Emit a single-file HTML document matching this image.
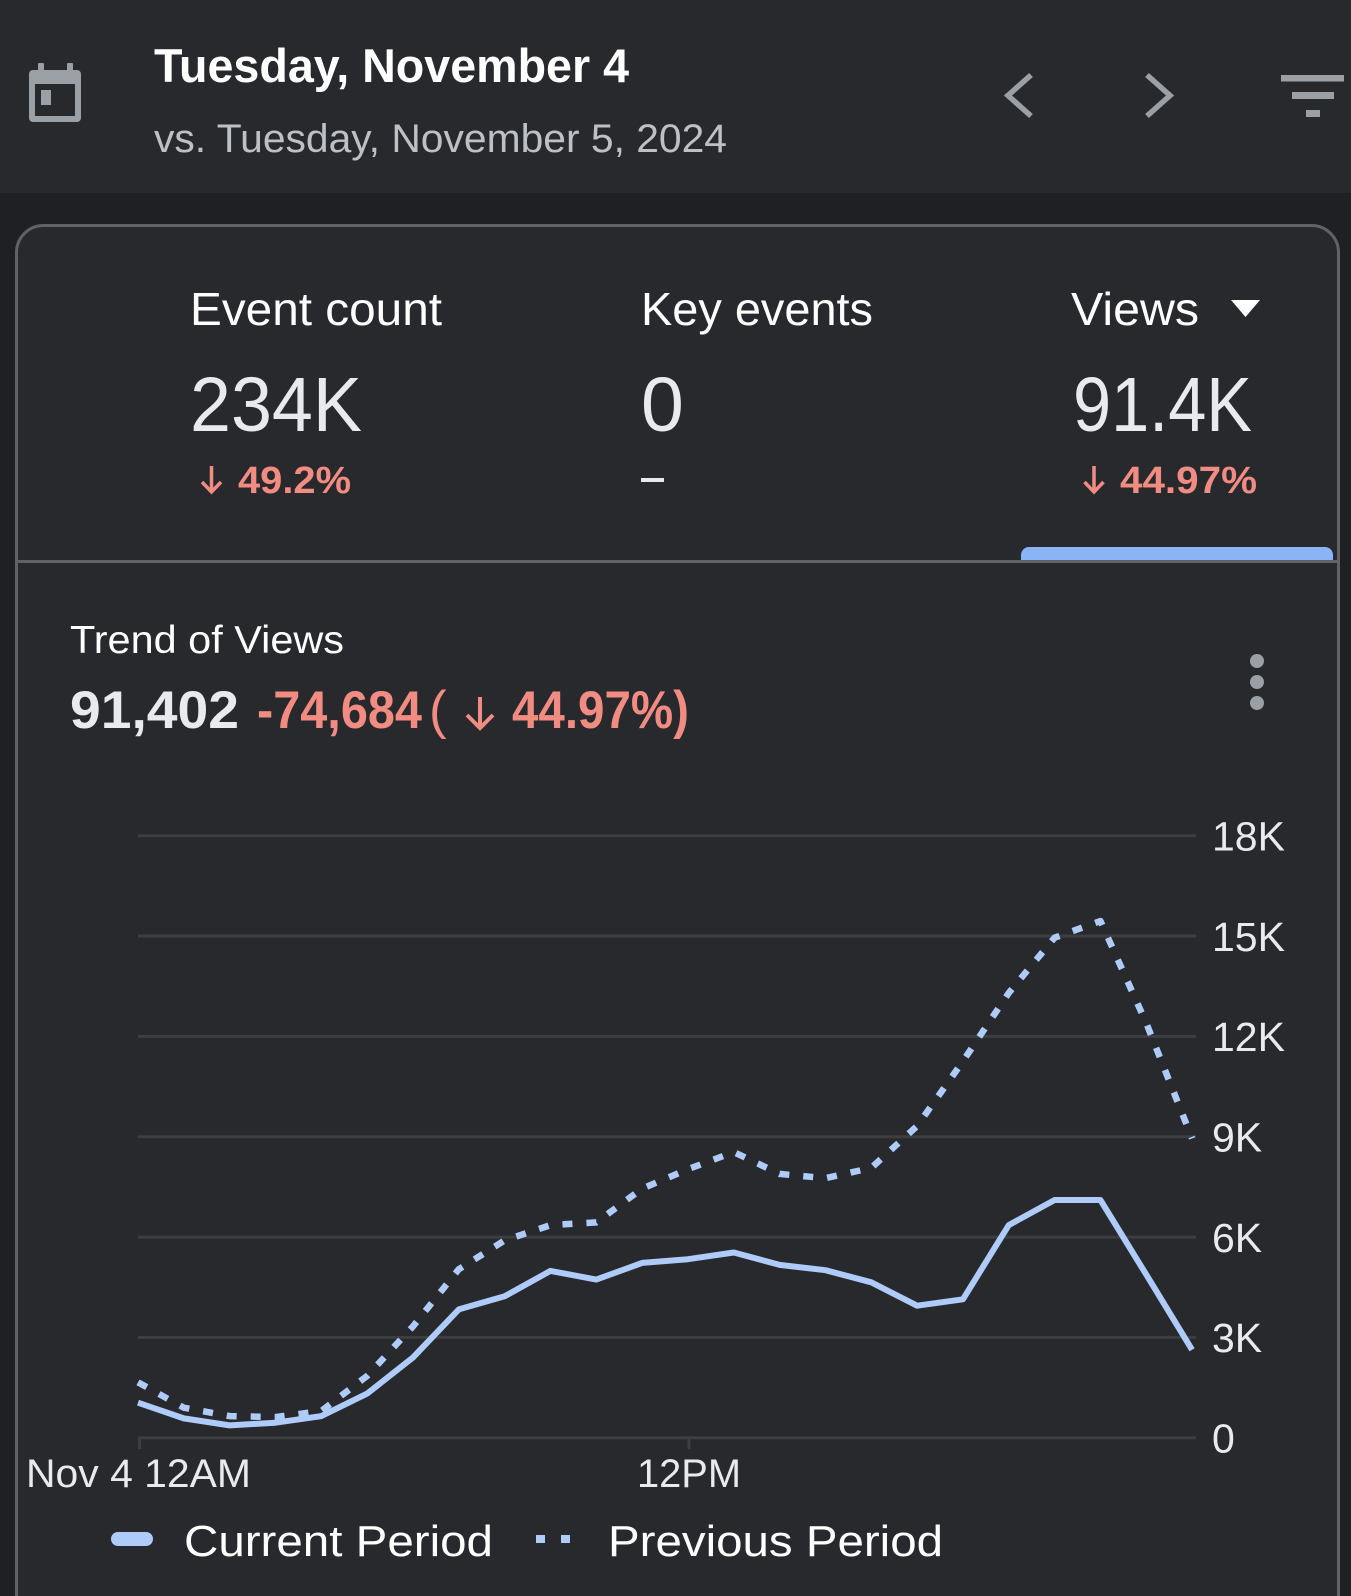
<!DOCTYPE html>
<html>
<head>
<meta charset="utf-8">
<style>
  html,body{margin:0;padding:0;background:#1f2023;}
  body{width:1351px;height:1596px;overflow:hidden;}
  svg{display:block;}
  text{font-family:"Liberation Sans", Arial, sans-serif;}
</style>
</head>
<body>
<svg width="1351" height="1596" viewBox="0 0 1351 1596" xmlns="http://www.w3.org/2000/svg">
  <!-- page background -->
  <rect x="0" y="0" width="1351" height="1596" fill="#1f2023"/>
  <!-- header -->
  <rect x="0" y="0" width="1351" height="193" fill="#28292d"/>

  <!-- calendar icon -->
  <g fill="#9aa0a6">
    <rect x="38" y="63" width="6" height="10" rx="1"/>
    <rect x="67" y="63" width="6" height="10" rx="1"/>
    <path d="M33,70 H77 A4,4 0 0 1 81,74 V118 A4,4 0 0 1 77,122 H33 A4,4 0 0 1 29,118 V74 A4,4 0 0 1 33,70 Z M35,84 V116 H75 V84 Z" fill-rule="evenodd"/>
    <rect x="41" y="90" width="10" height="15"/>
  </g>

  <text x="154" y="82" font-size="47" font-weight="bold" fill="#ffffff" textLength="475" lengthAdjust="spacingAndGlyphs">Tuesday, November 4</text>
  <text x="154" y="152" font-size="40" fill="#bdc1c6" textLength="573" lengthAdjust="spacingAndGlyphs">vs. Tuesday, November 5, 2024</text>

  <!-- chevrons -->
  <polyline points="1031,75 1008,95.5 1031,116" fill="none" stroke="#9aa0a6" stroke-width="5.5"/>
  <polyline points="1147,75 1170,95.5 1147,116" fill="none" stroke="#9aa0a6" stroke-width="5.5"/>
  <!-- filter icon -->
  <g fill="#9aa0a6">
    <rect x="1281" y="75" width="63" height="6.5"/>
    <rect x="1292" y="92" width="42" height="7"/>
    <rect x="1306" y="110" width="14" height="7"/>
  </g>

  <!-- card (open at bottom, ends at frame edge) -->
  <path d="M16.5,1596 V252.5 A27,27 0 0 1 43.5,225.5 H1311.5 A27,27 0 0 1 1338.5,252.5 V1596 Z" fill="#28292d"/>
  <path d="M16.5,1596 V252.5 A27,27 0 0 1 43.5,225.5 H1311.5 A27,27 0 0 1 1338.5,252.5 V1596" fill="none" stroke="#5f6368" stroke-width="3"/>

  <!-- KPI labels -->
  <text x="190" y="325" font-size="46" fill="#ffffff" textLength="252" lengthAdjust="spacingAndGlyphs">Event count</text>
  <text x="641" y="325" font-size="46" fill="#ffffff" textLength="232" lengthAdjust="spacingAndGlyphs">Key events</text>
  <text x="1071" y="325" font-size="46" fill="#ffffff" textLength="128" lengthAdjust="spacingAndGlyphs">Views</text>
  <polygon points="1231,300 1260,300 1245.5,317" fill="#ffffff"/>

  <!-- KPI values -->
  <text x="190" y="431" font-size="77" fill="#e8eaed" textLength="172" lengthAdjust="spacingAndGlyphs">234K</text>
  <text x="641" y="431" font-size="77" fill="#e8eaed">0</text>
  <text x="1073" y="431" font-size="77" fill="#e8eaed" textLength="179" lengthAdjust="spacingAndGlyphs">91.4K</text>

  <!-- deltas -->
  <g stroke="#f28b82" stroke-width="3.5" fill="none">
    <line x1="211.5" y1="466" x2="211.5" y2="491"/>
    <polyline points="202,482 211.5,492 221,482"/>
    <line x1="1094" y1="466" x2="1094" y2="491"/>
    <polyline points="1084.5,482 1094,492 1103.5,482"/>
  </g>
  <text x="238" y="493" font-size="38" font-weight="bold" fill="#f28b82" textLength="113" lengthAdjust="spacingAndGlyphs">49.2%</text>
  <rect x="641" y="478" width="23" height="4" fill="#e8eaed"/>
  <text x="1120" y="493" font-size="38" font-weight="bold" fill="#f28b82" textLength="137" lengthAdjust="spacingAndGlyphs">44.97%</text>

  <!-- tab indicator & divider -->
  <path d="M1021,561 V555 A8,8 0 0 1 1029,547 H1325 A8,8 0 0 1 1333,555 V561 Z" fill="#8ab4f8"/>
  <rect x="15" y="560" width="1325" height="3" fill="#5f6368"/>

  <!-- trend header -->
  <text x="70" y="653" font-size="39" fill="#ffffff" textLength="274" lengthAdjust="spacingAndGlyphs">Trend of Views</text>
  <text x="70" y="728" font-size="53" font-weight="bold" fill="#e8eaed" textLength="169" lengthAdjust="spacingAndGlyphs">91,402</text>
  <text x="257" y="728" font-size="53" font-weight="bold" fill="#f28b82" textLength="165" lengthAdjust="spacingAndGlyphs">-74,684</text>
  <text x="429" y="728" font-size="53" fill="#f28b82">(</text>
  <g stroke="#f28b82" stroke-width="4" fill="none">
    <line x1="480" y1="697" x2="480" y2="727"/>
    <polyline points="467,715 480,728 493,715"/>
  </g>
  <text x="512" y="728" font-size="53" font-weight="bold" fill="#f28b82" textLength="177" lengthAdjust="spacingAndGlyphs">44.97%)</text>

  <!-- more (kebab) -->
  <g fill="#9aa0a6">
    <circle cx="1257" cy="661" r="7"/>
    <circle cx="1257" cy="682" r="7"/>
    <circle cx="1257" cy="703" r="7"/>
  </g>

  <!-- gridlines -->
  <g stroke="#3c3e42" stroke-width="3">
    <line x1="138" y1="835.7" x2="1196" y2="835.7"/>
    <line x1="138" y1="936.0" x2="1196" y2="936.0"/>
    <line x1="138" y1="1036.4" x2="1196" y2="1036.4"/>
    <line x1="138" y1="1136.7" x2="1196" y2="1136.7"/>
    <line x1="138" y1="1237.1" x2="1196" y2="1237.1"/>
    <line x1="138" y1="1337.4" x2="1196" y2="1337.4"/>
    <line x1="138" y1="1437.8" x2="1196" y2="1437.8"/>
    <line x1="139.5" y1="1437" x2="139.5" y2="1449"/>
    <line x1="689" y1="1437" x2="689" y2="1449"/>
  </g>

  <!-- y labels -->
  <g font-size="41" fill="#e8eaed">
    <text x="1212" y="850.5">18K</text>
    <text x="1212" y="950.8">15K</text>
    <text x="1212" y="1051.2">12K</text>
    <text x="1212" y="1151.5">9K</text>
    <text x="1212" y="1251.9">6K</text>
    <text x="1212" y="1352.2">3K</text>
    <text x="1212" y="1452.6">0</text>
  </g>

  <!-- previous period (dotted) -->
  <polyline fill="none" stroke="#aecbfa" stroke-width="6.5" stroke-dasharray="10 14" stroke-linejoin="round"
    points="138,1382.3 183.83,1407.7 229.66,1416.1 275.49,1417.1 321.32,1411.0 367.15,1375.9 412.98,1326.4 458.81,1269.2 504.64,1240.4 550.47,1225.1 596.3,1222.4 642.13,1188.6 687.96,1169.2 733.79,1152.1 779.62,1173.9 825.45,1178.2 871.28,1167.9 917.11,1126.0 962.94,1061.2 1008.77,992.9 1054.6,937.7 1100.43,921.0 1146.26,1023.0 1192.09,1138.4"/>

  <!-- current period (solid) -->
  <polyline fill="none" stroke="#aecbfa" stroke-width="6" stroke-linejoin="round"
    points="138,1402.7 183.83,1418.4 229.66,1425.4 275.49,1422.7 321.32,1416.1 367.15,1393.6 412.98,1357.5 458.81,1309.4 504.64,1296.3 550.47,1270.9 596.3,1279.6 642.13,1262.9 687.96,1259.2 733.79,1252.5 779.62,1264.9 825.45,1270.2 871.28,1282.3 917.11,1305.7 962.94,1299.3 1008.77,1225.1 1054.6,1200.0 1100.43,1200.0 1146.26,1274.6 1192.09,1349.8"/>

  <!-- x labels -->
  <text x="26" y="1487" font-size="40" fill="#e8eaed" textLength="225" lengthAdjust="spacingAndGlyphs">Nov 4 12AM</text>
  <text x="637" y="1487" font-size="40" fill="#e8eaed" textLength="104" lengthAdjust="spacingAndGlyphs">12PM</text>

  <!-- legend -->
  <rect x="111" y="1532" width="42" height="14" rx="7" fill="#aecbfa"/>
  <text x="184" y="1556" font-size="44" fill="#ffffff" textLength="309" lengthAdjust="spacingAndGlyphs">Current Period</text>
  <rect x="536" y="1535" width="9" height="8" fill="#aecbfa"/>
  <rect x="561" y="1535" width="9" height="8" fill="#aecbfa"/>
  <text x="608" y="1556" font-size="44" fill="#ffffff" textLength="335" lengthAdjust="spacingAndGlyphs">Previous Period</text>
</svg>
</body>
</html>
